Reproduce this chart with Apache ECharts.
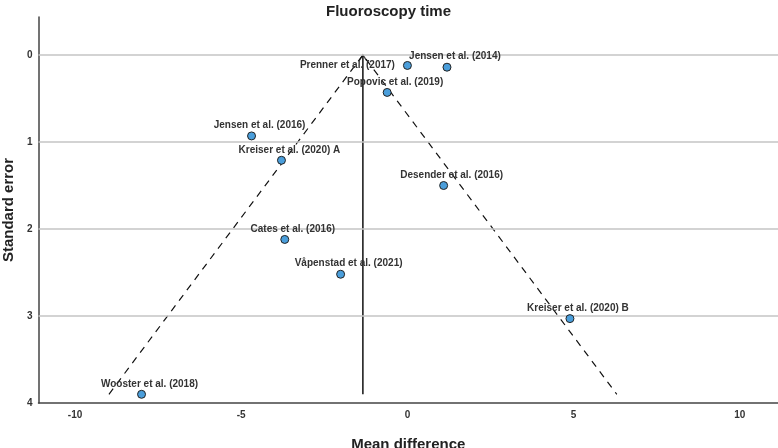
<!DOCTYPE html>
<html>
<head>
<meta charset="utf-8">
<script src="https://cdn.jsdelivr.net/npm/echarts@6/dist/echarts.min.js"></script>
<style>
html,body{margin:0;padding:0;background:#fff;}
#c{width:778px;height:448px;}
</style>
</head>
<body>
<div id="c"></div>
<script>
const studies = ['Jensen et al. (2014)', 'Prenner et al. (2017)', 'Popovic et al. (2019)', 'Jensen et al. (2016)', 'Kreiser et al. (2020) A', 'Desender et al. (2016)', 'Cates et al. (2016)', 'Våpenstad et al. (2021)', 'Kreiser et al. (2020) B', 'Wooster et al. (2018)'];
const meanDiff = [1.19, 0.0, -0.61, -4.69, -3.79, 1.09, -3.69, -2.01, 4.89, -8.0];
const stdErr = [0.14, 0.12, 0.43, 0.93, 1.21, 1.50, 2.12, 2.52, 3.03, 3.90];
const summaryMD = -1.34;
const summarySE = [3.9, 0];
const funnelMD = [-8.98, -1.34, 6.30];
const funnelSE = [3.9, 0, 3.9];
const xTicks = [-10, -5, 0, 5, 10];
const yTicks = [0, 1, 2, 3, 4];
const gridLines = [0, 1, 2, 3];

const FONT = "'Liberation Sans', Arial, sans-serif";
const chart = echarts.init(document.getElementById('c'), null, {renderer: 'canvas'});

const pts = studies.map((s, i) => {
  const item = {name: s, value: [meanDiff[i], stdErr[i]]};
  if (s === 'Prenner et al. (2017)') {
    item.label = {position: 'left', distance: 8, offset: [0, 0]};
  }
  return item;
});

chart.setOption({
  animation: false,
  title: {
    text: 'Fluoroscopy time',
    left: 321, top: -1,
    textStyle: {fontFamily: FONT, fontSize: 15, fontWeight: 'bold', color: '#222'}
  },
  grid: {left: 38.5, right: 0, top: 17, bottom: 45, containLabel: false, outerBoundsMode: 'none'},
  xAxis: {
    type: 'value', min: -11.1, max: 11.15,
    name: 'Mean difference', nameLocation: 'middle', nameGap: 34,
    nameTextStyle: {fontFamily: FONT, fontSize: 15, fontWeight: 'bold', color: '#222'},
    axisLine: {onZero: false, lineStyle: {color: '#444', width: 1.5}},
    axisTick: {show: false},
    splitLine: {show: false},
    axisLabel: {customValues: xTicks, fontFamily: FONT, fontSize: 10, fontWeight: 'bold', color: '#333', margin: 7}
  },
  yAxis: {
    type: 'value', inverse: true, min: -0.437, max: 4,
    name: 'Standard error', nameLocation: 'middle', nameGap: 22,
    nameTextStyle: {fontFamily: FONT, fontSize: 15, fontWeight: 'bold', color: '#222'},
    axisLine: {show: true, onZero: false, lineStyle: {color: '#444', width: 1.5}},
    axisTick: {show: false},
    splitLine: {show: false},
    axisLabel: {customValues: yTicks, fontFamily: FONT, fontSize: 10, fontWeight: 'bold', color: '#333', margin: 6}
  },
  series: [
    {
      type: 'line', data: [], z: 1, silent: true,
      markLine: {
        silent: true, symbol: ['none', 'none'], label: {show: false},
        lineStyle: {color: '#c4c4c4', width: 1.5, type: 'solid'},
        data: gridLines.map(v => ({yAxis: v}))
      }
    },
    {
      type: 'line', z: 2, silent: true, symbol: 'none',
      data: funnelMD.map((x, i) => [x, funnelSE[i]]),
      lineStyle: {color: '#111', width: 1.2, type: [7, 6]}
    },
    {
      type: 'line', z: 3, silent: true, symbol: 'none',
      data: summarySE.map(s => [summaryMD, s]),
      lineStyle: {color: '#111', width: 1.5}
    },
    {
      type: 'scatter', z: 3, silent: true,
      data: [[summaryMD, summarySE[1]]],
      symbol: 'path://M0,6 L4,0 L8,6',
      symbolSize: [8, 6], symbolOffset: [0, 3],
      itemStyle: {color: 'transparent', borderColor: '#111', borderWidth: 1.2}
    },
    {
      type: 'scatter', z: 5,
      data: pts,
      symbol: 'circle', symbolSize: 8,
      itemStyle: {color: '#4a9edb', borderColor: '#222', borderWidth: 1, opacity: 1},
      label: {
        show: true, position: 'top', distance: 1, offset: [8, 0],
        formatter: p => p.name,
        fontFamily: FONT, fontSize: 10, fontWeight: 'bold', color: '#333'
      }
    }
  ]
});
</script>
</body>
</html>
